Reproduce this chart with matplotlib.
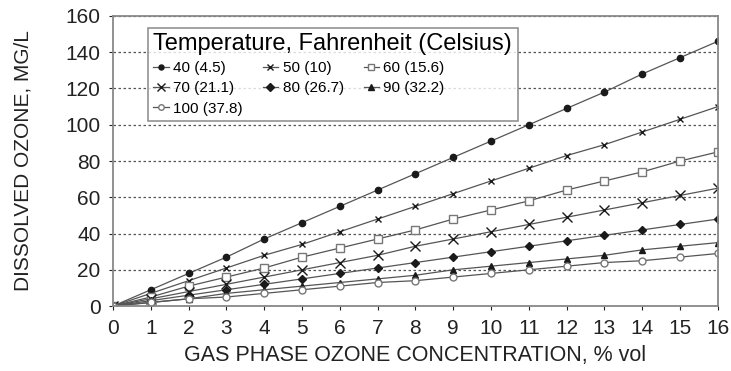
import matplotlib
matplotlib.use("Agg")
import matplotlib.pyplot as plt

plt.rcParams['font.family'] = ['Liberation Sans', 'DejaVu Sans']

# gas phase ozone concentration, % vol
x = list(range(17))

# dissolved ozone (mg/L) for each temperature
labels = ["40 (4.5)", "50 (10)", "60 (15.6)", "70 (21.1)", "80 (26.7)", "90 (32.2)", "100 (37.8)"]
t40 = [0, 9, 18, 27, 37, 46, 55, 64, 73, 82, 91, 100, 109, 118, 128, 137, 146]
t50 = [0, 7, 14, 21, 28, 34, 41, 48, 55, 62, 69, 76, 83, 89, 96, 103, 110]
t60 = [0, 5, 11, 16, 21, 27, 32, 37, 42, 48, 53, 58, 64, 69, 74, 80, 85]
t70 = [0, 4, 8, 12, 16, 20, 24, 28, 33, 37, 41, 45, 49, 53, 57, 61, 65]
t80 = [0, 3, 6, 9, 12, 15, 18, 21, 24, 27, 30, 33, 36, 39, 42, 45, 48]
t90 = [0, 2, 4, 7, 9, 11, 13, 15, 17, 20, 22, 24, 26, 28, 31, 33, 35]
t100 = [0, 2, 4, 5, 7, 9, 11, 13, 14, 16, 18, 20, 22, 24, 25, 27, 29]
series = [t40, t50, t60, t70, t80, t90, t100]

markers = ["o", "x", "s", "x", "D", "^", "o"]
filled = [True, True, False, True, True, True, False]
msizes = [4.5, 5, 5.5, 7, 4.5, 5, 5]

fig = plt.figure(figsize=(7.31, 3.71), dpi=100)
ax = fig.add_axes([0.1546, 0.175, 0.8274, 0.782])

handles = []
for y, lab, m, f, ms in zip(series, labels, markers, filled, msizes):
    h, = ax.plot(x, y, color="#555555", lw=0.9, marker=m, markersize=ms,
                 markerfacecolor="#1a1a1a" if f else "white",
                 markeredgecolor="#1a1a1a" if f else "#777777",
                 markeredgewidth=1.0, label=lab)
    handles.append(h)

ax.set_xlim(0, 16)
ax.set_ylim(0, 160)
ax.set_xticks(range(17))
ax.set_yticks(range(0, 161, 20))
ax.tick_params(labelsize=15, colors="#222222", length=3, pad=6)
ax.yaxis.grid(True, linestyle=(0, (2, 2)), color="#555555", lw=0.9)
for s in ax.spines.values():
    s.set_color("#888888")
    s.set_linewidth(1.3)

ax.set_xlabel("GAS PHASE OZONE CONCENTRATION, % vol", fontsize=15.5, color="#222222", labelpad=5)
ax.set_ylabel("DISSOLVED OZONE, MG/L", fontsize=15, color="#222222", labelpad=24)

# row-wise legend order (matplotlib fills column by column)
order = [0, 3, 6, 1, 4, 2, 5]
leg = ax.legend([handles[i] for i in order], [labels[i] for i in order],
                title="Temperature, Fahrenheit (Celsius)", ncol=3, loc="upper left",
                bbox_to_anchor=(0.058, 0.959), borderaxespad=0, fontsize=11, title_fontsize=17,
                frameon=True, fancybox=False, edgecolor="#777777",
                handlelength=1.0, handletextpad=0.3, columnspacing=1.3,
                labelspacing=0.4, borderpad=0.35, markerscale=0.8)
leg.get_frame().set_linewidth(1.2)
leg._legend_box.align = "left"

fig.savefig("out.png", dpi=100)
